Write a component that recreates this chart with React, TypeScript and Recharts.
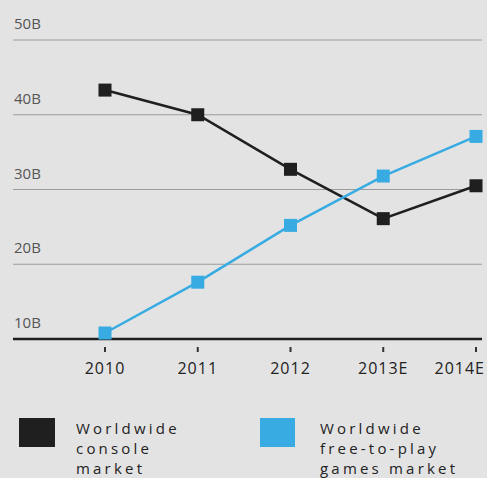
import React from 'react';
import { LineChart, Line, XAxis, YAxis, CartesianGrid, ReferenceLine } from 'recharts';

const years = ['2010', '2011', '2012', '2013E', '2014E'];
const consoleMarket = [43.3, 40.0, 32.7, 26.1, 30.5];
const freeToPlay = [10.8, 17.6, 25.2, 31.8, 37.1];
const yTicks = [10, 20, 30, 40, 50];

const data = years.map((year, i) => ({
  year,
  console: consoleMarket[i],
  f2p: freeToPlay[i],
}));

const BLACK = '#1f1f1f';
const BLUE = '#38ace2';
const FONT = '"Open Sans", Lato, sans-serif';

const SquareDot = (color: string) => (props: any) => {
  const { cx, cy, index } = props;
  if (cx == null || cy == null) return null;
  return <rect key={`d-${index}`} x={cx - 6.5} y={cy - 6.5} width={13} height={13} fill={color} />;
};

const YLabel = (text: string) => (props: any) => {
  const { viewBox } = props;
  return (
    <text
      x={viewBox.x + 1}
      y={viewBox.y - 11}
      fill="#555"
      fontFamily={FONT}
      style={{ fontSize: 15 }}
      textAnchor="start"
    >
      {text}
    </text>
  );
};

const XTick = (props: any) => {
  const { x, y, payload, index } = props;
  const last = index === years.length - 1;
  return (
    <g>
      <rect x={x - 1} y={y + 8} width={2} height={5} fill="#333" />
      <text
        x={last ? x + 9 : x}
        y={y + 35}
        fill="#222"
        fontFamily={FONT}
        letterSpacing={1}
        style={{ fontSize: 16 }}
        textAnchor={last ? 'end' : 'middle'}
      >
        {payload.value}
      </text>
    </g>
  );
};

const legendText: React.CSSProperties = {
  position: 'absolute',
  fontFamily: FONT,
  fontSize: 15,
  letterSpacing: 3.2,
  lineHeight: '20px',
  color: '#222',
};

export default function App() {
  return (
    <div
      style={{
        position: 'absolute',
        left: 0,
        top: 0,
        width: 487,
        height: 478,
        background: '#e3e3e3',
        overflow: 'hidden',
      }}
    >
      <LineChart
        width={487}
        height={385}
        data={data}
        margin={{ top: 40, right: 5, bottom: 6, left: 13 }}
        style={{ overflow: 'visible' }}
      >
        <CartesianGrid vertical={false} stroke="#9c9c9c" strokeWidth={1} />
        <XAxis
          dataKey="year"
          height={40}
          axisLine={false}
          tickLine={false}
          tickSize={0}
          tickMargin={0}
          padding={{ left: 92, right: 6 }}
          tick={<XTick />}
          interval={0}
        />
        <YAxis domain={[10, 50]} ticks={yTicks} hide />
        {yTicks.map((t) => (
          <ReferenceLine
            key={t}
            y={t}
            stroke={t === 10 ? BLACK : 'none'}
            strokeWidth={2.5}
            label={YLabel(`${t}B`)}
          />
        ))}
        <Line
          dataKey="console"
          stroke={BLACK}
          strokeWidth={2.5}
          dot={SquareDot(BLACK)}
          activeDot={false}
          isAnimationActive={false}
        />
        <Line
          dataKey="f2p"
          stroke={BLUE}
          strokeWidth={2.5}
          dot={SquareDot(BLUE)}
          activeDot={false}
          isAnimationActive={false}
        />
      </LineChart>
      <div style={{ position: 'absolute', left: 19, top: 418, width: 36, height: 29, background: BLACK }} />
      <div style={{ ...legendText, left: 76, top: 418 }}>
        Worldwide
        <br />
        console
        <br />
        market
      </div>
      <div style={{ position: 'absolute', left: 260, top: 418, width: 35, height: 29, background: BLUE }} />
      <div style={{ ...legendText, left: 320, top: 418 }}>
        Worldwide
        <br />
        free-to-play
        <br />
        games market
      </div>
    </div>
  );
}
